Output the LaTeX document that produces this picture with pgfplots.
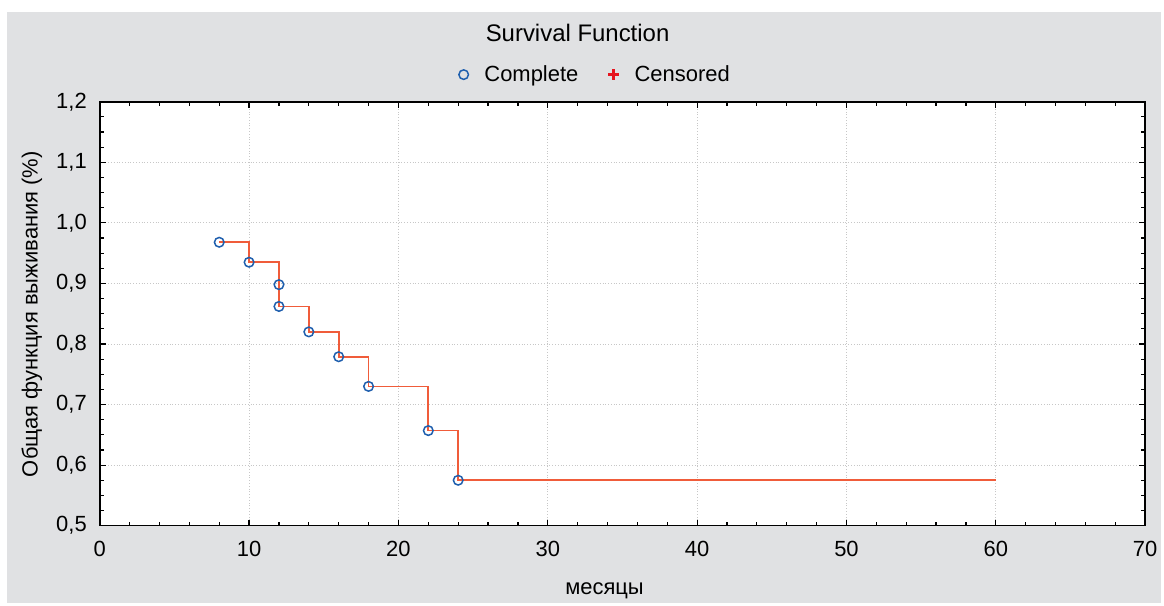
\documentclass[border=0pt]{standalone}
\usepackage{fontspec}
\setmainfont{Liberation Sans}
\usepackage{pgfplots}
\pgfplotsset{compat=1.18}

\definecolor{panel}{RGB}{224,225,227}
\definecolor{kmline}{RGB}{240,92,58}
\definecolor{kmblue}{RGB}{31,95,174}
\definecolor{censred}{RGB}{230,20,30}

\begin{document}
\begin{tikzpicture}
% page and grey panel (axis box is 524pt x 212.5pt, lower left at origin)
\fill[white] (-50pt,-39.5pt) rectangle (532pt,263.5pt);
\fill[panel] (-46.5pt,-39pt) rectangle (532pt,257.5pt);

\begin{axis}[
  at={(0,0)}, anchor=south west,
  scale only axis,
  width=524pt, height=212.5pt,
  xmin=0, xmax=70,
  ymin=0.5, ymax=1.2,
  xtick={0,10,...,70},
  ytick={0.5,0.6,...,1.2},
  minor x tick num=4,
  minor y tick num=3,
  tick align=inside,
  tick pos=both,
  major tick length=3pt,
  minor tick length=2pt,
  axis line style={line width=0.8pt},
  every tick/.style={black, line width=0.6pt},
  axis background/.style={fill=white},
  grid=major,
  major grid style={densely dotted, black!22, line width=0.4pt},
  tick label style={font=\fontsize{11}{13}\selectfont},
  /pgf/number format/.cd, use comma, fixed, fixed zerofill, precision=1,
  assume math mode=true,
  /pgfplots/.cd,
  xticklabel style={/pgf/number format/precision=0, /pgf/number format/fixed zerofill=false, yshift=-4pt},
  yticklabel style={xshift=-3pt},
  legend style={at={(axis description cs:0.475,1.064)}, anchor=center,
    draw=none, fill=none, font=\fontsize{11}{13}\selectfont,
    /tikz/every odd column/.append style={column sep=6pt},
    /tikz/every even column/.append style={column sep=13pt}},
  legend columns=2,
  legend cell align=left,
  clip=false,
]
% Kaplan-Meier step line
\addplot[const plot, kmline, line width=0.85pt, forget plot] coordinates {
  (8,0.968) (10,0.935) (12,0.898) (12,0.862) (14,0.820)
  (16,0.779) (18,0.730) (22,0.657) (24,0.575) (60,0.575)
};
% complete (event) points
\addplot[only marks, mark=o, mark size=2.4pt,
  mark options={draw=kmblue, fill=white, line width=0.75pt}] coordinates {
  (8,0.968) (10,0.935) (12,0.898) (12,0.862) (14,0.820)
  (16,0.779) (18,0.730) (22,0.657) (24,0.575)
};
\addlegendentry{Complete}
\addlegendimage{only marks, mark=+, mark size=2.6pt, censred, line width=1.2pt}
\addlegendentry{Censored}
\end{axis}

\node[font=\fontsize{12}{14}\selectfont] at (239.5pt,247pt) {Survival Function};
\node[font=\fontsize{11}{13}\selectfont] at (253pt,-32.5pt) {месяцы};
\node[font=\fontsize{11}{13}\selectfont, rotate=90] at (-34pt,106pt) {Общая функция выживания (\%)};
\end{tikzpicture}
\end{document}
